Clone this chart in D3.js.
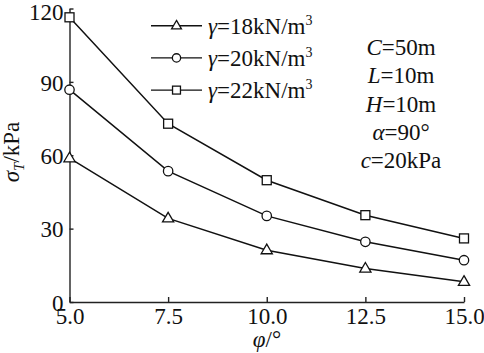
<!DOCTYPE html>
<html>
<head>
<meta charset="utf-8">
<script src="https://cdn.jsdelivr.net/npm/d3@7"></script>
<style>
    body { margin: 0; background: #fff; }
</style>
</head>
<body>
<svg id="chart" width="484" height="353" font-family="Liberation Serif"></svg>
<script>
const phi = [5.0, 7.5, 10.0, 12.5, 15.0];
const gamma18 = [58.8, 34.2, 21.2, 13.7, 8.3];
const gamma20 = [86.8, 53.5, 35.2, 24.6, 17.1];
const gamma22 = [116.4, 72.9, 49.8, 35.5, 26.0];
const seriesNames = ["18", "20", "22"];
const seriesShapes = ["triangle", "circle", "square"];
const xTicks = [5.0, 7.5, 10.0, 12.5, 15.0];
const yTicks = [0, 30, 60, 90, 120];
const notes = [["C", "=50m"], ["L", "=10m"], ["H", "=10m"], ["α", "=90°"], ["c", "=20kPa"]];

const FONT = "Liberation Serif";

class LineChart {
    constructor (element, configs) {
        this.svg = d3.select(element);
        this.defaultConfig = {
            margin: {top: 8.5, right: 20, bottom: 51, left: 69.5},
            fontSize: 23
        };
        this.config = Object.assign({}, this.defaultConfig, configs);
        this.initParams();
        this.setAxis();
        this.draw();
        this.setLegend();
        this.setNotes();
    }

    initParams () {
        this.width = 484 - this.config.margin.left - this.config.margin.right;
        this.height = 353 - this.config.margin.top - this.config.margin.bottom;
        this.data = [gamma18, gamma20, gamma22].map((vals, i) => ({
            name: seriesNames[i],
            shape: seriesShapes[i],
            values: phi.map((p, j) => ({x: p, y: vals[j]}))
        }));
        this.xScale = d3.scaleLinear().domain([5, 15]).range([0, 394.5]);
        this.yScale = d3.scaleLinear().domain([0, 120]).range([this.height, 0]);
        this.main = this.svg.append("g")
            .attr("transform", "translate(" + this.config.margin.left + "," + this.config.margin.top + ")");
    }

    setAxis () {
        let fs = this.config.fontSize;
        let xa = this.main.append("g")
            .attr("transform", "translate(0," + this.height + ")")
            .call(d3.axisBottom(this.xScale).tickValues(xTicks)
                .tickFormat(d3.format(".1f")).tickSizeInner(-5).tickSizeOuter(0).tickPadding(6));
        let ya = this.main.append("g")
            .call(d3.axisLeft(this.yScale).tickValues(yTicks)
                .tickSizeInner(-4).tickSizeOuter(0).tickPadding(6));
        [xa, ya].forEach((a) => {
            a.attr("font-family", FONT).attr("font-size", fs);
            a.selectAll("path, line").attr("stroke", "#222").attr("stroke-width", 1.4);
            a.selectAll("text").attr("fill", "#111");
        });
        // top label sits a little lower than its tick
        ya.selectAll("text").attr("dy", (d) => d === 120 ? "0.48em" : "0.36em");

        // axis titles
        let yl = this.svg.append("text")
            .attr("transform", "translate(19,152) rotate(-90)")
            .attr("text-anchor", "middle")
            .attr("font-size", fs)
            .attr("fill", "#111");
        yl.append("tspan").attr("font-style", "italic").text("σ");
        yl.append("tspan").attr("font-style", "italic").attr("font-size", 15).attr("dy", 5).text("T");
        yl.append("tspan").attr("dy", -5).text("/kPa");

        let xl = this.svg.append("text")
            .attr("x", 267).attr("y", 347)
            .attr("text-anchor", "middle")
            .attr("font-size", fs)
            .attr("fill", "#111");
        xl.append("tspan").attr("font-style", "italic").text("φ");
        xl.append("tspan").text("/°");
    }

    marker (sel, shape, s) {
        if (shape === "circle") {
            sel.append("circle").attr("r", 4.7 * s);
        } else if (shape === "square") {
            sel.append("rect").attr("x", -4.5 * s).attr("y", -4.5 * s)
                .attr("width", 9 * s).attr("height", 9 * s);
        } else {
            sel.append("path").attr("d", "M0," + (-6 * s) + "L" + (5.6 * s) + "," + (3.6 * s) +
                "L" + (-5.6 * s) + "," + (3.6 * s) + "Z");
        }
        sel.selectAll("*").attr("fill", "#fff").attr("stroke", "#111").attr("stroke-width", 1.3);
    }

    draw () {
        let line = d3.line().x((d) => this.xScale(d.x)).y((d) => this.yScale(d.y));
        let groups = this.main.selectAll(".series")
            .data(this.data)
            .enter()
            .append("g")
            .attr("class", "series");

        groups.append("path")
            .attr("d", (d) => line(d.values))
            .attr("fill", "none")
            .attr("stroke", "#111")
            .attr("stroke-width", 1.5);

        let self = this;
        groups.each(function (d) {
            d3.select(this).selectAll(".pt")
                .data(d.values)
                .enter()
                .append("g")
                .attr("class", "pt")
                .attr("transform", (p) => "translate(" + self.xScale(p.x) + "," + self.yScale(p.y) + ")")
                .each(function () { self.marker(d3.select(this), d.shape, 1); });
        });
    }

    setLegend () {
        let fs = this.config.fontSize;
        let rows = this.svg.append("g")
            .selectAll("g")
            .data(this.data)
            .enter()
            .append("g")
            .attr("transform", (d, i) => "translate(0," + (25.7 + i * 32.2) + ")");

        rows.append("line")
            .attr("x1", 151).attr("x2", 202)
            .attr("stroke", "#111").attr("stroke-width", 1.4);

        let self = this;
        rows.append("g")
            .attr("transform", "translate(176.5,0)")
            .each(function (d) { self.marker(d3.select(this), d.shape, 0.88); });

        let t = rows.append("text")
            .attr("x", 208).attr("y", 8.3)
            .attr("font-size", fs)
            .attr("fill", "#111");
        t.append("tspan").attr("font-style", "italic").text("γ");
        t.append("tspan").text((d) => "=" + d.name + "kN/m");
        t.append("tspan").attr("font-size", 14).attr("dy", -9).text("3");
    }

    setNotes () {
        let t = this.svg.append("g")
            .selectAll("text")
            .data(notes)
            .enter()
            .append("text")
            .attr("x", 401)
            .attr("y", (d, i) => 55 + i * 28.3)
            .attr("text-anchor", "middle")
            .attr("font-size", this.config.fontSize)
            .attr("fill", "#111");
        t.append("tspan").attr("font-style", "italic").text((d) => d[0]);
        t.append("tspan").text((d) => d[1]);
    }
}

new LineChart("#chart");
</script>
</body>
</html>
